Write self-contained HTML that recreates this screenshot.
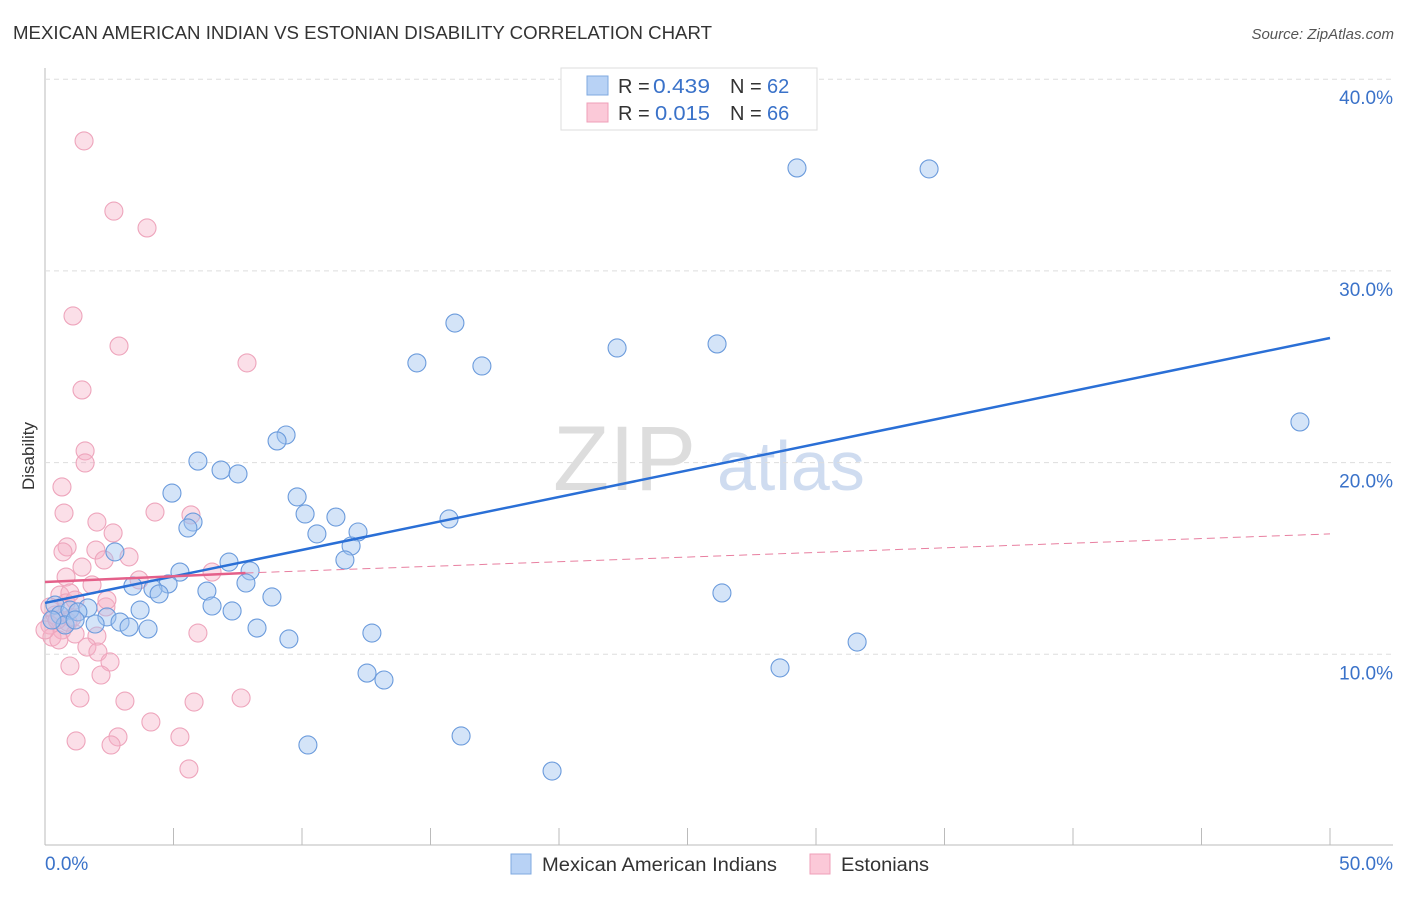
<!DOCTYPE html>
<html><head><meta charset="utf-8"><style>
body{margin:0;background:#fff;font-family:"Liberation Sans",sans-serif}
svg text{font-family:"Liberation Sans",sans-serif}
</style></head><body>
<svg id="c" width="1406" height="892">
<text x="13" y="39" font-size="18" fill="#333" textLength="699" lengthAdjust="spacingAndGlyphs">MEXICAN AMERICAN INDIAN VS ESTONIAN DISABILITY CORRELATION CHART</text>
<text x="1394" y="39" font-size="15" fill="#555" font-style="italic" text-anchor="end">Source: ZipAtlas.com</text>
<text x="0" y="0" transform="translate(34,456) rotate(-90)" font-size="17" fill="#333" text-anchor="middle">Disability</text>
<g><text x="553" y="490" font-size="92" fill="#ddd" font-family="Liberation Serif">ZIP</text><text x="717" y="490" font-size="70" fill="#cfdcf0">atlas</text></g>
<g id="grid"></g><g id="marks"></g>
<g>
<rect x="561" y="68" width="256" height="62" fill="#fff" stroke="#ddd"/>
<rect x="587" y="76" width="21" height="19" fill="#b8d2f5" stroke="#7fa9e0"/>
<rect x="587" y="103" width="21" height="19" fill="#fbc9d8" stroke="#ef9fb8"/>
<text x="618" y="93" font-size="20" fill="#333">R =</text>
<text x="653" y="93" font-size="20" fill="#3a72c9" textLength="57" lengthAdjust="spacingAndGlyphs">0.439</text>
<text x="730" y="93" font-size="20" fill="#333">N =</text>
<text x="767" y="93" font-size="20" fill="#3a72c9">62</text>
<text x="618" y="120" font-size="20" fill="#333">R =</text>
<text x="655" y="120" font-size="20" fill="#3a72c9" textLength="55" lengthAdjust="spacingAndGlyphs">0.015</text>
<text x="730" y="120" font-size="20" fill="#333">N =</text>
<text x="767" y="120" font-size="20" fill="#3a72c9">66</text>
</g>
<g>
<rect x="511" y="854" width="20" height="20" fill="#b8d2f5" stroke="#7fa9e0"/>
<text x="542" y="871" font-size="19" fill="#333" textLength="235" lengthAdjust="spacingAndGlyphs">Mexican American Indians</text>
<rect x="810" y="854" width="20" height="20" fill="#fbc9d8" stroke="#ef9fb8"/>
<text x="841" y="871" font-size="19" fill="#333" textLength="88" lengthAdjust="spacingAndGlyphs">Estonians</text>
</g>
</svg>
<script>
const yTicks=[10,20,30,40];
const xTickLabels=["0.0%","50.0%"];
const blueX=[29.26,34.40,15.95,14.47,17.00,22.26,26.15,48.83,9.38,9.03,5.95,6.85,7.51,4.94,9.81,10.12,11.32,5.76,5.56,10.58,12.18,15.72,11.91,11.67,2.72,7.16,7.98,5.25,7.82,3.42,4.79,4.20,4.44,6.30,8.83,6.50,7.28,3.70,1.67,2.41,2.92,3.27,4.01,1.95,8.25,9.49,12.72,26.34,31.60,28.60,12.53,13.19,10.23,16.19,19.73,0.39,0.58,0.97,0.78,1.28,0.27,1.17];
const blueY=[35.37,35.32,27.28,25.20,25.04,25.98,26.19,22.12,21.44,21.13,20.08,19.61,19.41,18.41,18.21,17.32,17.16,16.90,16.59,16.28,16.38,17.06,15.65,14.92,15.34,14.81,14.35,14.29,13.72,13.56,13.67,13.41,13.15,13.30,12.99,12.52,12.26,12.31,12.42,11.95,11.68,11.42,11.32,11.58,11.37,10.80,11.11,13.20,10.64,9.29,9.02,8.66,5.27,5.74,3.91,12.57,12.05,12.31,11.53,12.21,11.79,11.79];
const pinkX=[1.52,2.68,3.97,1.09,2.88,7.86,1.44,1.56,1.56,0.66,0.74,2.02,4.28,5.68,2.65,0.86,0.70,1.98,2.30,3.27,1.44,0.82,6.50,3.66,1.83,0.58,0.97,0.82,2.37,2.41,1.17,0.19,0.39,0.19,0.66,1.17,0.27,0.54,2.02,5.95,1.63,2.06,2.53,0.97,2.18,1.36,3.11,5.80,7.63,4.12,2.84,1.21,2.57,5.25,5.60,0.89,0,0.47,1.05];
const pinkY=[36.78,33.12,32.24,27.65,26.08,25.20,23.79,20.61,19.98,18.73,17.37,16.90,17.42,17.27,16.33,15.60,15.34,15.44,14.92,15.08,14.55,14.03,14.29,13.88,13.62,13.09,13.20,12.68,12.47,12.83,12.83,12.47,12.05,11.53,11.27,11.06,10.90,10.75,10.95,11.11,10.38,10.12,9.60,9.39,8.92,7.72,7.56,7.51,7.72,6.47,5.69,5.48,5.27,5.69,4.02,11.68,11.27,11.79,11.90];
const blueTrend=[[0,12.68],[50,26.5]];
const pinkTrendSolid=[[0,13.77],[7.8,14.24]];
const pinkTrendDash=[[7.8,14.24],[50,16.28]];
const X=v=>45+v*25.7, Y=v=>846-v*19.17;
const NS="http://www.w3.org/2000/svg";
function mk(p,t,a){const e=document.createElementNS(NS,t);for(const k in a)e.setAttribute(k,a[k]);p.appendChild(e);return e;}
const g=document.getElementById('grid'), m=document.getElementById('marks');
let ax=mk(g,'line',{x1:45,y1:68,x2:45,y2:845,stroke:'#bbb'});


let bx=mk(g,'line',{x1:45,y1:845,x2:1393,y2:845,stroke:'#bbb'});


yTicks.forEach(t=>{
 let l=mk(g,'line',{x1:45,y1:Y(t),x2:1393,y2:Y(t),stroke:'#ddd','stroke-dasharray':'5,4'});
 
 
 let tx=mk(g,'text',{x:1393,y:Y(t)+25,'font-size':19,fill:'#3a72c9','text-anchor':'end'});tx.textContent=t.toFixed(1)+'%';
 
 
});
for(let i=0;i<=10;i++){let l=mk(g,'line',{x1:X(i*5),y1:828,x2:X(i*5),y2:845,stroke:'#bbb'});
 
 }
[[0,'start',45],[1,'end',1393]].forEach(([i,a,x])=>{let t=mk(g,'text',{x:x,y:870,'font-size':19,fill:'#3a72c9','text-anchor':a});t.textContent=xTickLabels[i];
 
 });
pinkX.forEach((v,i)=>{let c=mk(m,'circle',{cx:X(v),cy:Y(pinkY[i]),r:9,fill:'rgba(246,175,198,0.4)',stroke:'#eea5bc','stroke-width':1.1});
 
 });
blueX.forEach((v,i)=>{let c=mk(m,'circle',{cx:X(v),cy:Y(blueY[i]),r:9,fill:'rgba(160,196,240,0.45)',stroke:'#6b9bdc','stroke-width':1.1});
 
 });
let tl=mk(m,'line',{x1:X(blueTrend[0][0]),y1:Y(blueTrend[0][1]),x2:X(blueTrend[1][0]),y2:Y(blueTrend[1][1]),stroke:'#2a6fd6','stroke-width':2.5});


let pd=mk(m,'line',{x1:X(pinkTrendDash[0][0]),y1:Y(pinkTrendDash[0][1]),x2:X(pinkTrendDash[1][0]),y2:Y(pinkTrendDash[1][1]),stroke:'#e87fa0','stroke-width':1,'stroke-dasharray':'8,5'});


let ps=mk(m,'line',{x1:X(pinkTrendSolid[0][0]),y1:Y(pinkTrendSolid[0][1]),x2:X(pinkTrendSolid[1][0]),y2:Y(pinkTrendSolid[1][1]),stroke:'#e4608a','stroke-width':2.5});


</script>
</body></html>
